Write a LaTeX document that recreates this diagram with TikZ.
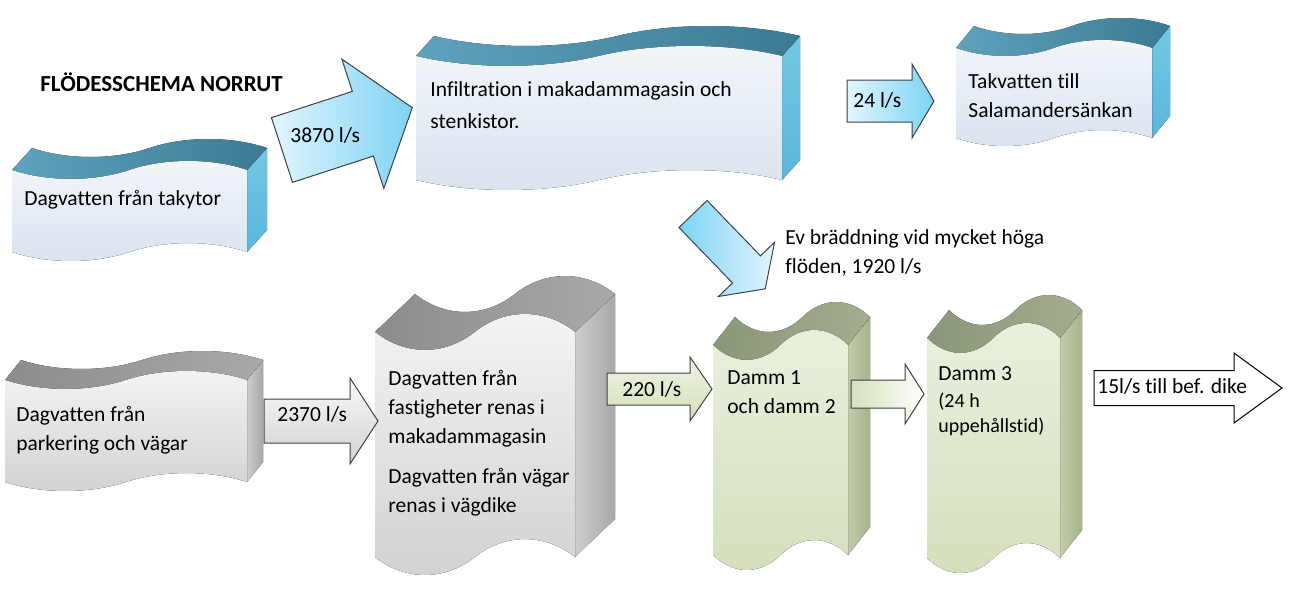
\documentclass[tikz,border=0pt]{standalone}
\usepackage{fontspec}
\setmainfont{Carlito}[Ligatures={NoCommon}]
\usetikzlibrary{positioning}

\definecolor{bfrontA}{HTML}{F2F6FA}
\definecolor{bfrontB}{HTML}{D9E3EF}
\definecolor{btopA}{HTML}{5FA2BC}
\definecolor{btopB}{HTML}{3C7A93}
\definecolor{bsideA}{HTML}{72C8E4}
\definecolor{bsideB}{HTML}{5AB7DA}
\definecolor{gfrontA}{HTML}{F4F4F4}
\definecolor{gfrontB}{HTML}{D2D2D2}
\definecolor{gtopA}{HTML}{8C8C8C}
\definecolor{gtopB}{HTML}{A9A9A9}
\definecolor{gsideA}{HTML}{CDCDCD}
\definecolor{gsideB}{HTML}{A8A8A8}
\definecolor{vfrontA}{HTML}{EAF0DF}
\definecolor{vfrontB}{HTML}{D3DFBC}
\definecolor{vtopA}{HTML}{8A9678}
\definecolor{vtopB}{HTML}{A3AE8E}
\definecolor{vsideA}{HTML}{C2CCAA}
\definecolor{vsideB}{HTML}{A6B28D}
\definecolor{arrowblueA}{HTML}{E2F5FD}
\definecolor{arrowblueB}{HTML}{7DD3F5}
\definecolor{arrowgreenA}{HTML}{EEF3E2}
\definecolor{arrowgreenB}{HTML}{D4E1BA}
\definecolor{arrowline}{HTML}{404040}

% wavy tape with depth: name, left, top, width, height, wave, depth x, depth y, colour set
\newcommand{\tapebox}[9]{%
  \pgfmathsetmacro{\xa}{#2}
  \pgfmathsetmacro{\xb}{#2+0.15*#4}
  \pgfmathsetmacro{\xc}{#2+0.35*#4}
  \pgfmathsetmacro{\xm}{#2+0.5*#4}
  \pgfmathsetmacro{\xd}{#2+0.65*#4}
  \pgfmathsetmacro{\xe}{#2+0.85*#4}
  \pgfmathsetmacro{\xf}{#2+#4}
  \pgfmathsetmacro{\yt}{#3}
  \pgfmathsetmacro{\yb}{#3+#5}
  \pgfmathsetmacro{\wv}{1.33*#6}
  \fill[#9side] (\xf,\yt) -- ++(#7,-#8) -- ++(0,#5) -- (\xf,\yb) -- cycle;
  \fill[#9top] (\xa,\yt) .. controls (\xb,\yt+\wv) and (\xc,\yt+\wv) .. (\xm,\yt)
      .. controls (\xd,\yt-\wv) and (\xe,\yt-\wv) .. (\xf,\yt) -- ++(#7,-#8)
      .. controls (\xe+#7,\yt-\wv-#8) and (\xd+#7,\yt-\wv-#8) .. (\xm+#7,\yt-#8)
      .. controls (\xc+#7,\yt+\wv-#8) and (\xb+#7,\yt+\wv-#8) .. (\xa+#7,\yt-#8) -- cycle;
  \fill[#9front] (\xa,\yt) .. controls (\xb,\yt+\wv) and (\xc,\yt+\wv) .. (\xm,\yt)
      .. controls (\xd,\yt-\wv) and (\xe,\yt-\wv) .. (\xf,\yt) -- (\xf,\yb)
      .. controls (\xe,\yb-\wv) and (\xd,\yb-\wv) .. (\xm,\yb)
      .. controls (\xc,\yb+\wv) and (\xb,\yb+\wv) .. (\xa,\yb) -- cycle;
  \coordinate (#1) at (\xm,\yt);
}

% block arrow: style, tail, angle, length, shaft half, head half, head length
\newcommand{\blockarrow}[7]{%
  \draw[#1, shift={#2}, rotate=#3] (0,-#5) -- ({#4-#7},-#5) -- ({#4-#7},-#6) -- (#4,0)
    -- ({#4-#7},#6) -- ({#4-#7},#5) -- (0,#5) -- cycle;
}

\begin{document}
\begin{tikzpicture}[x=0.5pt, y=-0.5pt,
  txt/.style={inner sep=0pt, anchor=base west, align=left, font=\fontsize{10.75}{14.5}\selectfont},
  bluefront/.style={top color=bfrontA, bottom color=bfrontB},
  bluetop/.style={left color=btopA, right color=btopB},
  blueside/.style={top color=bsideA, bottom color=bsideB},
  grayfront/.style={top color=gfrontA, bottom color=gfrontB},
  graytop/.style={left color=gtopA, right color=gtopB},
  grayside/.style={left color=gsideA, right color=gsideB},
  greenfront/.style={top color=vfrontA, bottom color=vfrontB},
  greentop/.style={left color=vtopA, right color=vtopB},
  greenside/.style={left color=vsideA, right color=vsideB},
  bluearrow/.style={draw=arrowline, line width=0.5pt, left color=arrowblueA, right color=arrowblueB},
  grayarrow/.style={draw=arrowline, line width=0.5pt, top color=white!95!gray, bottom color=gfrontB},
  greenarrow/.style={draw=arrowline, line width=0.5pt, top color=arrowgreenA, bottom color=arrowgreenB},
  whitearrow/.style={draw=black, line width=0.5pt, fill=white}]

\useasboundingbox (0,0) rectangle (1291,591);

% tapes
\tapebox{takytor}{12}{170}{235}{82}{9}{20}{22}{blue}
\tapebox{infiltration}{416}{56}{366}{124}{10}{18}{20}{blue}
\tapebox{salamander}{956}{48}{196}{90}{8}{18}{22}{blue}
\tapebox{parkering}{5}{380}{242}{102}{9}{16}{20}{gray}
\tapebox{renas}{375}{332}{200}{225}{18}{40}{38}{gray}
\tapebox{damma}{713}{345}{135}{210}{15}{22}{28}{green}
\tapebox{dammb}{927}{338}{133}{220}{15}{22}{28}{green}

% arrows
\blockarrow{bluearrow}{(282,150)}{18}{137}{34}{68}{52}
\blockarrow{bluearrow}{(847,101)}{0}{87}{21}{37}{22}
\blockarrow{bluearrow, left color=arrowblueB, right color=arrowblueA}{(693,214)}{-46}{104}{19.5}{39}{27}
\blockarrow{grayarrow}{(264,421)}{0}{114}{22}{43}{28}
\blockarrow{greenarrow}{(607,389)}{0}{105}{16}{32}{22}
\blockarrow{greenarrow, left color=arrowgreenB, right color=white}{(851,394)}{0}{73}{14}{30}{19}
\blockarrow{whitearrow}{(1094,388)}{0}{188}{17.5}{35}{48}

% texts
\node[txt, font=\fontsize{11.5}{14}\selectfont\bfseries] (title) at (40,91) {FLÖDESSCHEMA NORRUT};
\node[txt] (ttakytor) at (24,205) {Dagvatten från takytor};
\node[txt, font=\fontsize{10.75}{16}\selectfont] (tinfiltration) at (430,128) {Infiltration i makadammagasin och\\stenkistor.};
\node[txt] (tsalamander) at (968,117) {Takvatten till\\Salamandersänkan};
\node[txt] (tbrädd) at (785,273) {Ev bräddning vid mycket höga\\flöden, 1920 l/s};
\node[txt] (tparkering) at (16,450) {Dagvatten från\\parkering och vägar};
\node[txt] (trenas) at (388,443) {Dagvatten från\\fastigheter renas i\\makadammagasin};
\node[txt] (tvägdike) at (388,512) {Dagvatten från vägar\\renas i vägdike};
\node[txt] (tdamma) at (727,413) {Damm 1\\och damm 2};
\node[txt] (tdammb) at (938,380) {Damm 3};
\node[txt, font=\fontsize{10}{12.5}\selectfont] (tuppehåll) at (938,432) {(24 h\\uppehållstid)};
\node[txt] (q3870) at (290,142) {3870 l/s};
\node[txt] (q24) at (853,107) {24 l/s};
\node[txt] (q2370) at (277,421) {2370 l/s};
\node[txt] (q220) at (622,396) {220 l/s};
\node[txt] (q15) at (1097,393) {15l/s till bef. dike};
\end{tikzpicture}
\end{document}
